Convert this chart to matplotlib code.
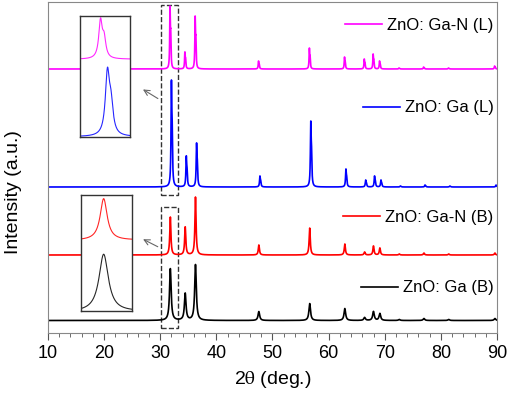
import numpy as np
import matplotlib
matplotlib.use('Agg')
import matplotlib.pyplot as plt
from matplotlib.patches import Rectangle
from matplotlib.legend import Legend

plt.rcParams['font.family'] = ['Liberation Sans', 'DejaVu Sans']
plt.rcParams['mathtext.fontset'] = 'stix'

# ZnO reflections (2theta, deg)
peak_pos = [31.77, 34.42, 36.25, 47.54, 56.60, 62.86, 66.38, 67.96, 69.10, 72.56, 76.95, 81.37, 89.60]

# peak heights (arbitrary units)
h_gan_l = [63, 17, 53, 8, 21, 12, 10, 15, 8, 1, 2, 1, 3]
h_ga_l = [107, 31, 44, 11, 66, 18, 7, 11, 7, 1, 2, 1, 2]
h_gan_b = [38, 28, 58, 10, 27, 11, 3, 9, 7, 1, 2, 1, 2]
h_ga_b = [52, 27, 56, 9, 17, 12, 3, 9, 7, 1, 2, 1, 2]

labels = ['ZnO: Ga-N (L)', 'ZnO: Ga (L)', 'ZnO: Ga-N (B)', 'ZnO: Ga (B)']
colors = ['#ff00ff', '#0000ff', '#ff0000', '#000000']
offsets = [264, 146, 78, 12.5]
heights = [h_gan_l, h_ga_l, h_gan_b, h_ga_b]
shifts = [-0.03, 0.22, 0.03, 0.03]
fwhm = [0.13, 0.16, 0.24, 0.34]
fwhm_inset = [0.15, 0.18, 0.30, 0.40]
ka2 = [0.5, 0.45, 0.0, 0.0]

legend_y = [0.930, 0.680, 0.350, 0.136]


def pattern(x, h, shift, w, k2):
    y = np.zeros_like(x)
    g = w / 2.0
    for p, a in zip(peak_pos, h):
        c = p + shift
        y += a * g**2 / ((x - c)**2 + g**2)
        if k2 > 0:
            y += k2 * a * g**2 / ((x - c - 0.13)**2 + g**2)
    return y


x = np.linspace(10, 90, 8001)

fig = plt.figure(figsize=(5.1, 3.93), dpi=100)
ax = fig.add_axes([0.0941, 0.1527, 0.8804, 0.8422])

for i in range(4):
    y = pattern(x, heights[i], shifts[i], fwhm[i], ka2[i])
    y = y / y.max() * max(heights[i])
    line, = ax.plot(x, y + offsets[i], color=colors[i], lw=1.2)
    leg = Legend(ax, [line], [labels[i]], loc='center right',
                 bbox_to_anchor=(0.992, legend_y[i]), frameon=False,
                 fontsize=12, handlelength=2.2, handletextpad=0.3,
                 borderpad=0, borderaxespad=0)
    ax.add_artist(leg)

ax.set_xlim(10, 90)
ax.set_ylim(0, 331)
ax.set_xticks(np.arange(10, 91, 10))
ax.set_xticks(np.arange(10, 91, 2), minor=True)
ax.set_yticks([])
ax.tick_params(axis='x', which='major', length=5, labelsize=13, color='#555555')
ax.tick_params(axis='x', which='minor', length=3, color='#555555')
for s in ax.spines.values():
    s.set_color('#888888')
ax.set_xlabel(r'2$\mathrm{\theta}$ (deg.)', fontsize=14, labelpad=5)
ax.set_ylabel('Intensity (a.u.)', fontsize=14)
ax.yaxis.set_label_coords(-0.058, 0.426)

# dashed boxes around the (100) peak
ax.add_patch(Rectangle((30.1, 138), 3.0, 190, fill=False, ls='--', lw=1.0, ec='#333333'))
ax.add_patch(Rectangle((30.1, 5), 3.0, 121, fill=False, ls='--', lw=1.0, ec='#333333'))
ax.annotate('', xy=(26.5, 245), xytext=(30.0, 233),
            arrowprops=dict(arrowstyle='->', color='#666666', lw=0.8))
ax.annotate('', xy=(26.5, 95), xytext=(30.0, 85),
            arrowprops=dict(arrowstyle='->', color='#666666', lw=0.8))

# insets
xi = np.linspace(31.0, 32.8, 600)
inset_pos = [[0.0713, 0.592, 0.111, 0.366], [0.0735, 0.0665, 0.1136, 0.350]]
inset_pairs = [(0, 1), (2, 3)]
inset_base = [[0.645, 0.008], [0.62, 0.015]]
inset_h = [[0.34, 0.57], [0.35, 0.475]]
for pos, pair, base, hh in zip(inset_pos, inset_pairs, inset_base, inset_h):
    axi = ax.inset_axes(pos)
    for j, i in enumerate(pair):
        yi = pattern(xi, heights[i], shifts[i], fwhm_inset[i], ka2[i])
        yi = (yi - yi.min()) / (yi.max() - yi.min())
        axi.plot(xi, base[j] + hh[j] * yi, color=colors[i], lw=0.8, alpha=0.85)
    axi.set_xlim(31.0, 32.8)
    axi.set_ylim(0, 1)
    axi.set_xticks([])
    axi.set_yticks([])
    for s in axi.spines.values():
        s.set_color('#333333')
        s.set_linewidth(1.0)

fig.savefig('out.png', dpi=100)
